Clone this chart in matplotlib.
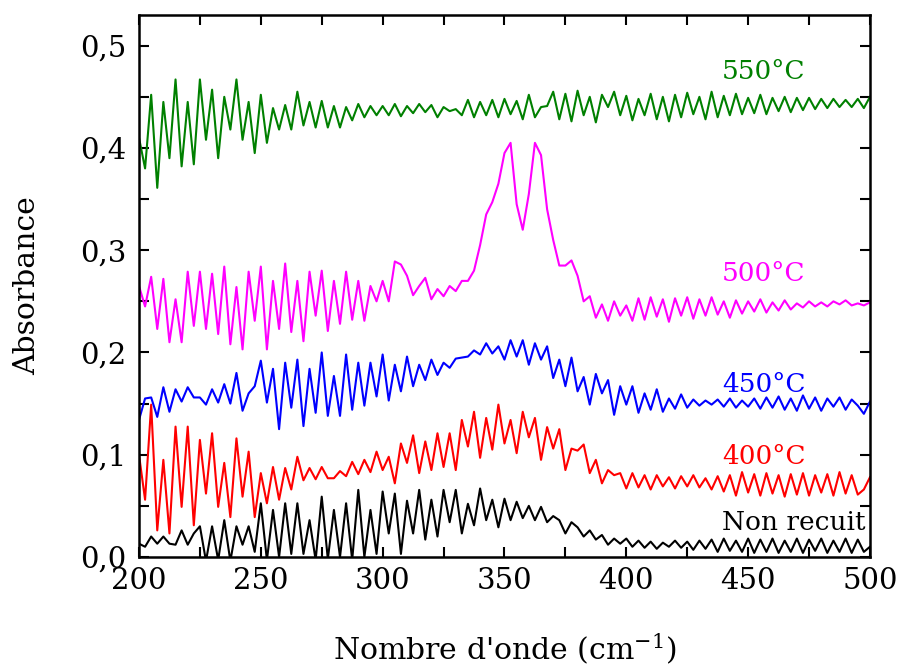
"""FTIR absorbance spectra for annealed and non-annealed films."""

import numpy as np
import matplotlib
matplotlib.use("Agg")
import matplotlib.pyplot as plt
from matplotlib.ticker import MultipleLocator, FuncFormatter

# Wavenumber grid (cm-1), one reading every 2.5 cm-1
wavenumber = np.arange(200, 500.01, 2.5)

# Absorbance, 10 values per 25 cm-1
abs_550 = [
    0.41, 0.38, 0.452, 0.361, 0.445, 0.39, 0.467, 0.382, 0.445, 0.384,
    0.467, 0.408, 0.457, 0.39, 0.45, 0.418, 0.467, 0.408, 0.445, 0.395,
    0.452, 0.405, 0.439, 0.418, 0.442, 0.418, 0.455, 0.422, 0.445, 0.42,
    0.446, 0.42, 0.441, 0.42, 0.44, 0.427, 0.443, 0.43, 0.441, 0.432,
    0.441, 0.432, 0.443, 0.431, 0.441, 0.434, 0.443, 0.435, 0.442, 0.43,
    0.44, 0.436, 0.438, 0.432, 0.447, 0.43, 0.445, 0.432, 0.447, 0.43,
    0.448, 0.433, 0.446, 0.428, 0.452, 0.43, 0.44, 0.441, 0.455, 0.428,
    0.453, 0.426, 0.456, 0.432, 0.45, 0.425, 0.452, 0.44, 0.455, 0.432,
    0.451, 0.427, 0.448, 0.432, 0.453, 0.428, 0.45, 0.426, 0.452, 0.43,
    0.454, 0.433, 0.45, 0.428, 0.455, 0.43, 0.451, 0.432, 0.453, 0.433,
    0.449, 0.434, 0.452, 0.433, 0.449, 0.436, 0.45, 0.435, 0.449, 0.437,
    0.449, 0.438, 0.448, 0.439, 0.448, 0.44, 0.447, 0.44, 0.448, 0.439,
    0.45,
]
abs_500 = [
    0.265, 0.245, 0.274, 0.223, 0.272, 0.21, 0.252, 0.21, 0.279, 0.226,
    0.279, 0.223, 0.277, 0.218, 0.284, 0.208, 0.264, 0.203, 0.279, 0.231,
    0.284, 0.203, 0.27, 0.223, 0.287, 0.22, 0.27, 0.211, 0.279, 0.236,
    0.28, 0.221, 0.27, 0.228, 0.279, 0.232, 0.27, 0.231, 0.265, 0.25,
    0.27, 0.25, 0.289, 0.286, 0.275, 0.256, 0.265, 0.273, 0.252, 0.262,
    0.255, 0.265, 0.26, 0.27, 0.27, 0.28, 0.305, 0.335, 0.347, 0.365,
    0.395, 0.405, 0.345, 0.32, 0.355, 0.405, 0.393, 0.34, 0.31, 0.285,
    0.285, 0.29, 0.275, 0.25, 0.255, 0.234, 0.247, 0.231, 0.25, 0.236,
    0.246, 0.231, 0.253, 0.232, 0.254, 0.235, 0.252, 0.23, 0.253, 0.236,
    0.254, 0.233, 0.252, 0.236, 0.254, 0.237, 0.25, 0.234, 0.251, 0.238,
    0.25, 0.24, 0.252, 0.239, 0.249, 0.241, 0.251, 0.242, 0.248, 0.244,
    0.25, 0.245, 0.249, 0.245, 0.25, 0.247, 0.251, 0.246, 0.248, 0.246,
    0.249,
]
abs_450 = [
    0.134, 0.155, 0.156, 0.137, 0.166, 0.142, 0.164, 0.152, 0.166, 0.156,
    0.156, 0.149, 0.164, 0.151, 0.169, 0.15, 0.18, 0.143, 0.16, 0.167,
    0.192, 0.151, 0.184, 0.125, 0.19, 0.146, 0.193, 0.128, 0.184, 0.141,
    0.2, 0.138, 0.177, 0.138, 0.198, 0.144, 0.19, 0.148, 0.19, 0.157,
    0.198, 0.153, 0.188, 0.162, 0.196, 0.167, 0.188, 0.173, 0.193, 0.178,
    0.19, 0.185, 0.194, 0.195, 0.196, 0.202, 0.198, 0.209, 0.199, 0.206,
    0.193, 0.212, 0.196, 0.212, 0.188, 0.209, 0.193, 0.206, 0.175, 0.193,
    0.167, 0.195, 0.162, 0.176, 0.149, 0.179, 0.16, 0.173, 0.139, 0.167,
    0.149, 0.167, 0.141, 0.16, 0.144, 0.164, 0.142, 0.155, 0.145, 0.159,
    0.146, 0.154, 0.148, 0.153, 0.149, 0.154, 0.147, 0.155, 0.146, 0.153,
    0.147, 0.155, 0.145, 0.156, 0.146, 0.157, 0.144, 0.155, 0.143, 0.158,
    0.145, 0.156, 0.143, 0.155, 0.147, 0.156, 0.144, 0.154, 0.148, 0.14,
    0.152,
]
abs_400 = [
    0.1, 0.056, 0.149, 0.026, 0.095, 0.023, 0.1275, 0.049, 0.1275, 0.031,
    0.1145, 0.062, 0.121, 0.049, 0.092, 0.039, 0.116, 0.059, 0.103, 0.039,
    0.082, 0.0525, 0.088, 0.056, 0.087, 0.066, 0.098, 0.075, 0.087, 0.076,
    0.088, 0.077, 0.077, 0.084, 0.079, 0.093, 0.081, 0.095, 0.083, 0.103,
    0.085, 0.098, 0.072, 0.111, 0.092, 0.119, 0.082, 0.113, 0.085, 0.121,
    0.088, 0.121, 0.085, 0.134, 0.108, 0.142, 0.097, 0.136, 0.105, 0.149,
    0.111, 0.134, 0.1015, 0.142, 0.117, 0.136, 0.095, 0.127, 0.106, 0.125,
    0.085, 0.106, 0.104, 0.11, 0.082, 0.095, 0.072, 0.085, 0.08, 0.082,
    0.067, 0.082, 0.068, 0.08, 0.066, 0.08, 0.069, 0.078, 0.067, 0.079,
    0.069, 0.08, 0.068, 0.077, 0.066, 0.079, 0.064, 0.08, 0.06, 0.083,
    0.063, 0.081, 0.06, 0.082, 0.062, 0.08, 0.059, 0.081, 0.061, 0.082,
    0.06, 0.08, 0.063, 0.081, 0.06, 0.083, 0.062, 0.08, 0.061, 0.066,
    0.078,
]
abs_raw = [
    0.013, 0.01, 0.02, 0.013, 0.02, 0.013, 0.012, 0.026, 0.012, 0.023,
    0.03, -0.004, 0.03, -0.003, 0.036, -0.004, 0.03, 0.012, 0.03, 0.005,
    0.0525, -0.003, 0.046, 0.0, 0.0525, 0.003, 0.0525, 0.003, 0.036, -0.003,
    0.059, -0.002, 0.046, 0.0, 0.0525, -0.003, 0.0656, 0.0, 0.046, 0.003,
    0.064, 0.023, 0.062, 0.003, 0.055, 0.023, 0.0656, 0.017, 0.056, 0.02,
    0.0656, 0.034, 0.0656, 0.023, 0.052, 0.031, 0.067, 0.036, 0.056, 0.029,
    0.057, 0.036, 0.054, 0.038, 0.05, 0.036, 0.049, 0.034, 0.04, 0.036,
    0.023, 0.034, 0.029, 0.02, 0.026, 0.017, 0.0215, 0.012, 0.018, 0.013,
    0.018, 0.01, 0.016, 0.009, 0.015, 0.008, 0.014, 0.01, 0.016, 0.009,
    0.015, 0.007, 0.016, 0.008, 0.017, 0.005, 0.018, 0.006, 0.016, 0.005,
    0.018, 0.004, 0.017, 0.005, 0.018, 0.004, 0.016, 0.005, 0.018, 0.004,
    0.017, 0.006, 0.018, 0.004, 0.016, 0.005, 0.018, 0.004, 0.017, 0.005,
    0.01,
]

series_labels = ["Non recuit", "400°C", "450°C", "500°C", "550°C"]
series_colors = ["black", "#ff0000", "#0000ff", "#ff00ff", "#008000"]
series_values = [abs_raw, abs_400, abs_450, abs_500, abs_550]

plt.rcParams["font.family"] = ["DejaVu Serif"]
plt.rcParams["mathtext.default"] = "regular"

fig = plt.figure(figsize=(8.99, 6.68), dpi=100)
ax = fig.add_axes([0.1546, 0.1662, 0.8131, 0.8113])

for values, color in zip(series_values, series_colors):
    ax.plot(wavenumber, values, color=color, linewidth=1.5)

# Curve labels, placed next to the right-hand part of each trace
label_pos = [(498, 0.034, "right"), (456.5, 0.098, "center"),
             (456.5, 0.169, "center"), (456.5, 0.277, "center"),
             (456.5, 0.475, "center")]
for (lx, ly, ha), text, color in zip(label_pos, series_labels, series_colors):
    ax.text(lx, ly, text, color=color, fontsize=19, ha=ha, va="center")

ax.set_xlim(200, 500)
ax.set_ylim(0, 0.53)
ax.xaxis.set_major_locator(MultipleLocator(50))
ax.xaxis.set_minor_locator(MultipleLocator(25))
ax.yaxis.set_major_locator(MultipleLocator(0.1))
ax.yaxis.set_minor_locator(MultipleLocator(0.05))
ax.yaxis.set_major_formatter(FuncFormatter(lambda v, p: f"{v:.1f}".replace(".", ",")))

ax.tick_params(which="both", direction="in", top=True, right=True,
               length=7, width=1.5, labelsize=21)
ax.tick_params(axis="x", pad=7)
ax.tick_params(axis="y", pad=9)
for spine in ax.spines.values():
    spine.set_linewidth(1.8)

ax.set_xlabel("Nombre d'onde (cm$^{-1}$)", fontsize=21.5, labelpad=26)
ax.set_ylabel("Absorbance", fontsize=21.5, labelpad=28)

fig.savefig("out.png", dpi=100)
